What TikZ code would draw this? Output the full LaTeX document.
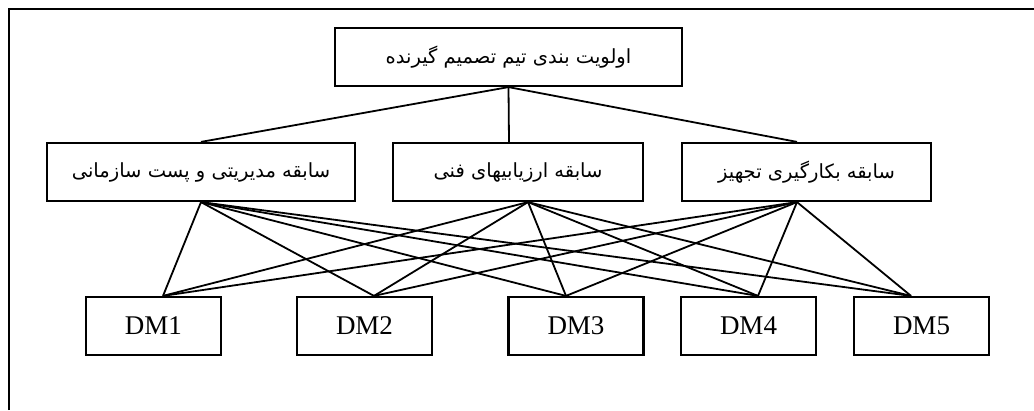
\documentclass[tikz,border=0pt]{standalone}
\usepackage{fontspec}
\setmainfont{Liberation Serif}
\newfontfamily\arabicfont[Script=Arabic]{DejaVu Sans}
\TeXXeTstate=1
\usetikzlibrary{positioning}

\tikzset{
  box/.style={rectangle, draw, line width=2.2pt, minimum height=58pt, inner sep=0pt},
  fatext/.style={font=\arabicfont\fontsize{19.5}{22}\selectfont},
  dmtext/.style={font=\fontsize{27}{30}\selectfont},
  link/.style={line width=1.8pt}
}

\begin{document}
\begin{tikzpicture}[x=1pt, y=-1pt]
        \useasboundingbox (0,0) rectangle (1034,410);
        % open frame (only left and top edges show)
        \draw[line width=2pt] (9,410) -- (9,9) -- (1034,9);

        \node[box, fatext, minimum width=347pt] (prio) at (508.5,57) {\beginR اولویت بندی تیم تصمیم گیرنده\endR};

        \node[box, fatext, minimum width=308pt] (mgmt) at (201,172) {\beginR سابقه مدیریتی و پست سازمانی\endR};
        \node[box, fatext, minimum width=250pt] (tech) at (518,172) {\beginR سابقه ارزیابیهای فنی\endR};
        \node[box, fatext, minimum width=249pt] (equip) at (806.5,172) {\beginR سابقه بکارگیری تجهیز\endR};

        \node[box, dmtext, minimum width=135pt] (dm1) at (153.5,326) {DM1};
        \node[box, dmtext, minimum width=135pt] (dm2) at (364.5,326) {DM2};
        \node[box, dmtext, minimum width=135pt] (dm3) at (576,326) {DM3};
        \node[box, dmtext, minimum width=135pt] (dm4) at (748.5,326) {DM4};
        \node[box, dmtext, minimum width=135pt] (dm5) at (921.5,326) {DM5};

        % meeting points of the links on each box
        \coordinate (tech-top) at ([xshift=-9pt]tech.north);
        \coordinate (tech-bot) at ([xshift=10pt]tech.south);
        \coordinate (equip-top) at ([xshift=-9.5pt]equip.north);
        \coordinate (equip-bot) at ([xshift=-9.5pt]equip.south);
        \coordinate (dm1-in) at ([xshift=9.5pt]dm1.north);
        \coordinate (dm2-in) at ([xshift=9.5pt]dm2.north);
        \coordinate (dm3-in) at ([xshift=-10pt]dm3.north);
        \coordinate (dm4-in) at ([xshift=9.5pt]dm4.north);
        \coordinate (dm5-in) at ([xshift=-10.5pt]dm5.north);

        \draw[link] (prio.south) -- (mgmt.north);
        \draw[link] (prio.south) -- (tech-top);
        \draw[link] (prio.south) -- (equip-top);

        \draw[link] (mgmt.south) -- (dm1-in);
        \draw[link] (mgmt.south) -- (dm2-in);
        \draw[link] (mgmt.south) -- (dm3-in);
        \draw[link] (mgmt.south) -- (dm4-in);
        \draw[link] (mgmt.south) -- (dm5-in);

        \draw[link] (tech-bot) -- (dm1-in);
        \draw[link] (tech-bot) -- (dm2-in);
        \draw[link] (tech-bot) -- (dm3-in);
        \draw[link] (tech-bot) -- (dm4-in);
        \draw[link] (tech-bot) -- (dm5-in);

        \draw[link] (equip-bot) -- (dm1-in);
        \draw[link] (equip-bot) -- (dm2-in);
        \draw[link] (equip-bot) -- (dm3-in);
        \draw[link] (equip-bot) -- (dm4-in);
        \draw[link] (equip-bot) -- (dm5-in);
      \end{tikzpicture}
\end{document}
